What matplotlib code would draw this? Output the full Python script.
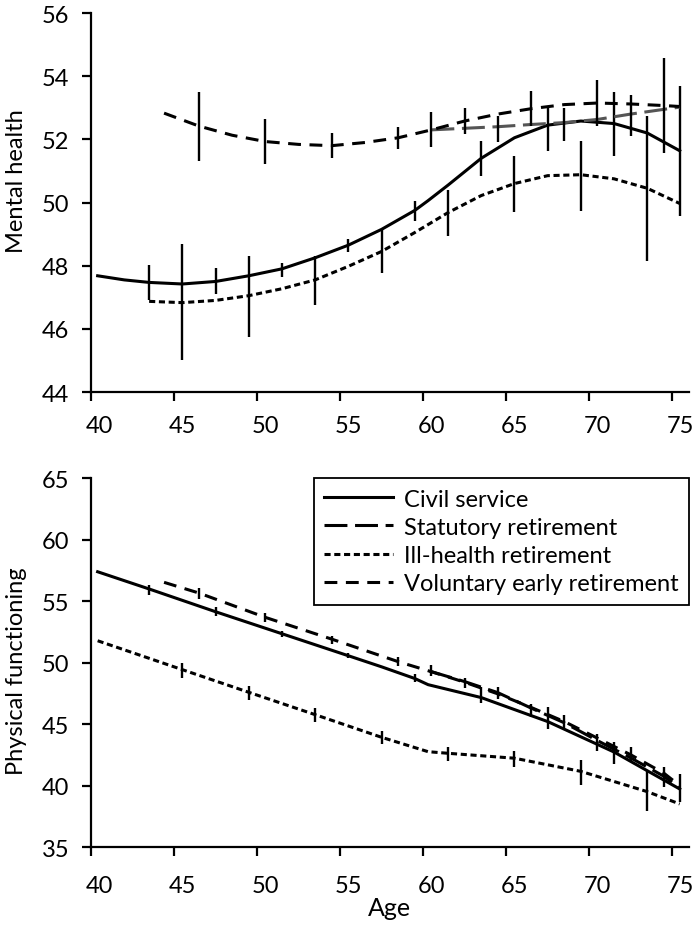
import numpy as np
import matplotlib
matplotlib.use('Agg')
import matplotlib.pyplot as plt
import matplotlib.transforms as mtransforms

plt.rcParams['font.family'] = ['Lato', 'DejaVu Sans']
plt.rcParams['font.size'] = 17

# ---------------- Mental health (top) ----------------
civil_age_mh = [40.4, 42, 43.5, 45.5, 47.5, 49.5, 51.5, 53.5, 55.5, 57.5, 59.5, 60.3, 61.5, 63.5, 65.5, 67.5, 69.5, 71.5, 73.5, 75.45]
civil_mh = [47.68, 47.55, 47.47, 47.42, 47.5, 47.68, 47.9, 48.25, 48.65, 49.15, 49.75, 50.06, 50.55, 51.4, 52.05, 52.45, 52.58, 52.5, 52.2, 51.64]
civil_bar_age_mh = [43.5, 47.5, 51.5, 55.5, 59.5, 63.5, 67.5, 71.5, 75.45]
civil_lo_mh = [46.9, 47.1, 47.65, 48.43, 49.42, 50.84, 51.63, 51.47, 49.58]
civil_hi_mh = [48.03, 47.93, 48.1, 48.84, 50.05, 51.95, 53.06, 53.5, 53.69]

ill_age_mh = [43.5, 45.5, 47.5, 49.5, 51.5, 53.5, 55.5, 57.5, 59.5, 61.5, 63.5, 65.5, 67.5, 69.5, 71.5, 73.5, 75.45]
ill_mh = [46.87, 46.83, 46.9, 47.05, 47.27, 47.55, 47.98, 48.45, 49.05, 49.68, 50.22, 50.6, 50.85, 50.88, 50.75, 50.45, 49.97]
ill_bar_age_mh = [45.5, 49.5, 53.5, 57.5, 61.5, 65.5, 69.5, 73.5]
ill_lo_mh = [45.0, 45.75, 46.74, 47.77, 48.94, 49.7, 49.73, 48.15]
ill_hi_mh = [48.7, 48.3, 48.3, 49.16, 50.4, 51.47, 51.95, 52.74]

vol_age_mh = [44.4, 46.5, 48.5, 50.5, 52.5, 54.5, 56.5, 58.5, 60.5, 62.5, 64.5, 66.5, 68.5, 70.5, 72.5, 74.5, 75.45]
vol_mh = [52.83, 52.42, 52.13, 51.93, 51.84, 51.8, 51.9, 52.05, 52.3, 52.58, 52.8, 52.97, 53.1, 53.15, 53.12, 53.07, 53.04]
vol_bar_age_mh = [46.5, 50.5, 54.5, 58.5, 62.5, 66.5, 70.5, 74.5]
vol_lo_mh = [51.3, 51.22, 51.4, 51.7, 52.17, 52.42, 52.42, 51.57]
vol_hi_mh = [53.5, 52.65, 52.2, 52.39, 52.99, 53.53, 53.88, 54.58]

stat_age_mh = [60.5, 62.5, 64.5, 66.5, 68.5, 70.5, 72.5, 74.5, 75.45]
stat_mh = [52.3, 52.35, 52.4, 52.47, 52.53, 52.63, 52.8, 52.95, 53.02]
stat_bar_age_mh = [60.5, 64.5, 68.5, 72.5]
stat_lo_mh = [51.76, 51.92, 51.95, 52.1]
stat_hi_mh = [52.87, 52.74, 52.99, 53.41]

# ---------------- Physical functioning (bottom) ----------------
civil_age_pf = [40.4, 43.5, 47.5, 51.5, 55.5, 57.5, 59.5, 60.3, 63.5, 67.5, 71.5, 73.5, 75.45]
civil_pf = [57.38, 55.98, 54.13, 52.34, 50.55, 49.65, 48.7, 48.2, 47.15, 45.2, 42.72, 41.2, 39.72]
civil_bar_age_pf = [43.5, 47.5, 51.5, 55.5, 59.5, 63.5, 67.5, 71.5, 75.45]
civil_lo_pf = [55.51, 53.76, 52.05, 50.4, 48.39, 46.7, 44.59, 41.75, 38.63]
civil_hi_pf = [56.3, 54.49, 52.6, 50.75, 49.07, 47.98, 46.35, 43.56, 40.93]

ill_age_pf = [40.4, 45.5, 49.5, 53.5, 57.5, 60.3, 61.5, 65.5, 69.5, 73.5, 75.45]
ill_pf = [51.77, 49.42, 47.58, 45.76, 43.92, 42.75, 42.62, 42.22, 41.15, 39.5, 38.5]
ill_bar_age_pf = [45.5, 49.5, 53.5, 57.5, 61.5, 65.5, 69.5, 73.5]
ill_lo_pf = [48.72, 46.98, 45.19, 43.37, 42.02, 41.48, 40.04, 37.95]
ill_hi_pf = [50.0, 48.12, 46.27, 44.46, 43.1, 42.83, 42.1, 41.2]

vol_age_pf = [44.4, 46.5, 50.5, 54.5, 58.5, 60.5, 62.5, 64.5, 66.5, 68.5, 70.5, 72.5, 74.5, 75.45]
vol_pf = [56.52, 55.65, 53.67, 51.9, 50.07, 49.25, 48.4, 47.45, 46.35, 45.2, 43.85, 42.5, 41.0, 40.0]
vol_bar_age_pf = [46.5, 50.5, 54.5, 58.5, 62.5, 66.5, 70.5, 74.5]
vol_lo_pf = [55.16, 53.32, 51.5, 49.69, 47.9, 45.55, 42.83, 39.9]
vol_hi_pf = [56.03, 54.02, 52.18, 50.42, 48.71, 46.63, 44.19, 41.5]

stat_age_pf = [60.4, 62.5, 64.5, 66.5, 68.5, 70.5, 72.5, 74.5, 75.45]
stat_pf = [49.3, 48.45, 47.55, 46.3, 45.1, 43.65, 42.25, 40.75, 39.8]
stat_bar_age_pf = [60.5, 64.5, 68.5, 72.5]
stat_lo_pf = [48.88, 47.03, 44.65, 42.02]
stat_hi_pf = [49.8, 47.98, 45.73, 43.1]

labels = ["Civil service", "Statutory retirement", "Ill-health retirement", "Voluntary early retirement"]

LW = 2.2
sty_civil = dict(color='black', lw=LW, linestyle='-')
sty_stat = dict(color='#555555', lw=LW, linestyle=(0, (7.5, 2.5)))
sty_ill = dict(color='black', lw=LW, linestyle=(0, (2.0, 1.2)))
sty_vol = dict(color='black', lw=LW, linestyle=(0, (4.2, 2.8)))


def panel(ax, data, ylim, yticks, ylabel, label_y, xpad):
    for age, val, bage, lo, hi, sty, lab in data:
        ax.plot(age, val, label=lab, **sty)
        ax.vlines(bage, lo, hi, color='black', lw=1.7)
    ax.set_xlim(40, 76)
    ax.set_ylim(*ylim)
    ax.set_yticks(yticks)
    ax.set_xticks(range(40, 76, 5))
    for s in ['top', 'right']:
        ax.spines[s].set_visible(False)
    for s in ['left', 'bottom']:
        ax.spines[s].set_linewidth(1.6)
    ax.tick_params(direction='out', length=6.5, width=1.6, labelsize=17)
    ax.tick_params(axis='x', pad=xpad)
    ax.tick_params(axis='y', pad=9)
    shift = mtransforms.ScaledTranslation(8 / 100, 0, ax.figure.dpi_scale_trans)
    for t in ax.get_xticklabels():
        t.set_transform(t.get_transform() + shift)
    ax.set_ylabel(ylabel, fontsize=17)
    ax.yaxis.set_label_coords(-0.107, label_y)


fig = plt.figure(figsize=(7, 9.28), dpi=100)
ax1 = fig.add_axes([0.13, 0.5765, 0.854, 0.4084])
ax2 = fig.add_axes([0.13, 0.0862, 0.854, 0.3976])

panel(ax1, [
    (civil_age_mh, civil_mh, civil_bar_age_mh, civil_lo_mh, civil_hi_mh, sty_civil, labels[0]),
    (stat_age_mh, stat_mh, stat_bar_age_mh, stat_lo_mh, stat_hi_mh, sty_stat, labels[1]),
    (ill_age_mh, ill_mh, ill_bar_age_mh, ill_lo_mh, ill_hi_mh, sty_ill, labels[2]),
    (vol_age_mh, vol_mh, vol_bar_age_mh, vol_lo_mh, vol_hi_mh, sty_vol, labels[3]),
], (44, 56), range(44, 57, 2), "Mental health", 0.56, 10)

panel(ax2, [
    (civil_age_pf, civil_pf, civil_bar_age_pf, civil_lo_pf, civil_hi_pf, sty_civil, labels[0]),
    (stat_age_pf, stat_pf, stat_bar_age_pf, stat_lo_pf, stat_hi_pf, sty_stat, labels[1]),
    (ill_age_pf, ill_pf, ill_bar_age_pf, ill_lo_pf, ill_hi_pf, sty_ill, labels[2]),
    (vol_age_pf, vol_pf, vol_bar_age_pf, vol_lo_pf, vol_hi_pf, sty_vol, labels[3]),
], (35, 65), range(35, 66, 5), "Physical functioning", 0.48, 14)

ax2.set_xlabel("Age", fontsize=18, labelpad=0)

handles, labs = ax2.get_legend_handles_labels()
handles[1].set_color('black')
leg = ax2.legend(handles, labs, loc='upper right', bbox_to_anchor=(1.0, 1.0),
                 borderaxespad=0, frameon=True, fancybox=False, edgecolor='black',
                 framealpha=1.0, handlelength=2.9, handletextpad=0.45,
                 labelspacing=0.3, borderpad=0.45, fontsize=17)
leg.get_frame().set_linewidth(1.3)

fig.savefig("out.png", dpi=100)
